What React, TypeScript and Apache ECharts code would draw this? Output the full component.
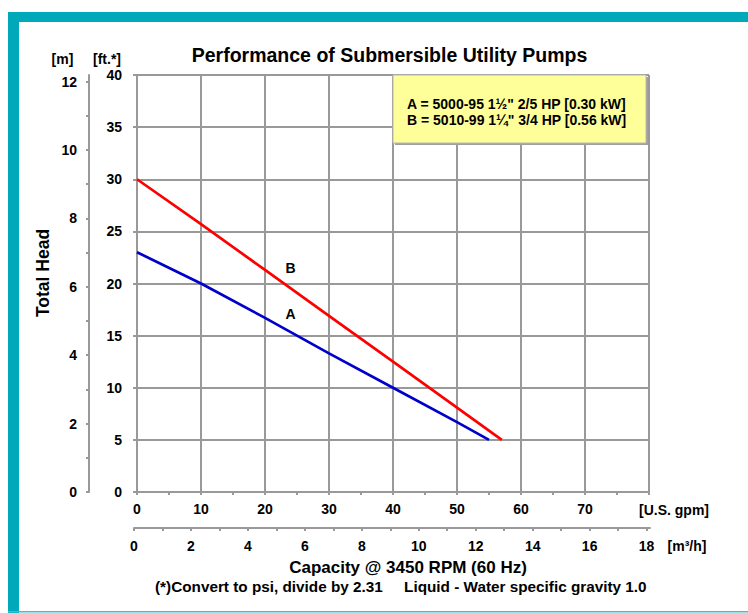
import React, { useEffect, useRef } from "react";
import * as echarts from "echarts";

// ---- data ----
const gpmA = [0, 10, 20, 30, 40, 50, 55];
const headA = [23, 20, 16.7, 13.3, 10, 6.7, 5];
const gpmB = [0, 10, 20, 30, 40, 50, 57];
const headB = [30, 25.7, 21.3, 16.9, 12.5, 8.1, 5];
const curveLabelNames = ["B", "A"];
const curveLabelGpm = [24, 24];
const curveLabelFt = [21.5, 17.1];
const mTickValues = [0, 1, 2, 3, 4, 5, 6, 7, 8, 9, 10, 11, 12];
const mLabelValues = [0, 2, 4, 6, 8, 10, 12];
const m3hTickValues = [0, 1, 2, 3, 4, 5, 6, 7, 8, 9, 10, 11, 12, 13, 14, 15, 16, 17, 18];
const m3hLabelValues = [0, 2, 4, 6, 8, 10, 12, 14, 16, 18];
const legendLines = ['A = 5000-95 1½" 2/5 HP [0.30 kW]', 'B = 5010-99 1¼" 3/4 HP [0.56 kW]'];
const titleText = "Performance of Submersible Utility Pumps";
const noteText = "(*)Convert to psi, divide by 2.31     Liquid - Water specific gravity 1.0";

const FT_PER_M = 3.2808;
const FF = "'Liberation Sans', Arial, Helvetica, sans-serif";
const GRID = "#999999";
const TEAL = "#00a9b9";

export default function App() {
  const ref = useRef<HTMLDivElement>(null);
  useEffect(() => {
    document.body.style.margin = "0";
    const chart = echarts.init(ref.current!, null, { renderer: "svg" });
    const boldFont = (s: number) => `bold ${s}px ${FF}`;
    const txt = (text: string, x: number, y: number, size: number, align = "center", rotation = 0) => ({
      type: "text",
      x,
      y,
      rotation,
      z: 100,
      style: { text, font: boldFont(size), fill: "#000", align, verticalAlign: "middle" },
    });
    const option: any = {
      animation: false,
      grid: [
        { left: 137, top: 75, width: 512, height: 417 },
        { left: 134, top: 527, width: 516, height: 1 },
      ],
      xAxis: [
        {
          type: "value",
          gridIndex: 0,
          min: 0,
          max: 80,
          interval: 10,
          axisLine: { show: true, lineStyle: { color: GRID, width: 2 } },
          axisTick: { show: true, length: 3, lineStyle: { color: GRID, width: 2 } },
          minorTick: { show: true, splitNumber: 2, length: 3, lineStyle: { color: GRID, width: 2 } },
          splitLine: { show: true, lineStyle: { color: GRID, width: 2 } },
          axisLabel: { margin: 10, color: "#000", fontWeight: "bold", fontSize: 14, fontFamily: FF, showMaxLabel: false },
        },
        {
          type: "value",
          gridIndex: 1,
          min: 0,
          max: 18.12,
          axisLine: { show: true, lineStyle: { color: GRID, width: 2 } },
          axisTick: { show: true, length: 3, customValues: m3hTickValues, lineStyle: { color: GRID, width: 2 } },
          splitLine: { show: false },
          axisLabel: { margin: 11, color: "#000", fontWeight: "bold", fontSize: 14, fontFamily: FF, customValues: m3hLabelValues },
        },
      ],
      yAxis: [
        {
          type: "value",
          gridIndex: 0,
          min: 0,
          max: 40,
          interval: 5,
          axisLine: { show: true, lineStyle: { color: GRID, width: 2 } },
          axisTick: { show: true, length: 4, lineStyle: { color: GRID, width: 2 } },
          splitLine: { show: true, lineStyle: { color: GRID, width: 2 } },
          axisLabel: { margin: 15, color: "#000", fontWeight: "bold", fontSize: 14, fontFamily: FF },
        },
        {
          type: "value",
          gridIndex: 0,
          position: "left",
          offset: 48,
          min: 0,
          max: 40 / FT_PER_M,
          axisLine: { show: true, lineStyle: { color: GRID, width: 2 } },
          axisTick: { show: true, length: 3, customValues: mTickValues, lineStyle: { color: GRID, width: 2 } },
          splitLine: { show: false },
          axisLabel: { margin: 12, color: "#000", fontWeight: "bold", fontSize: 14, fontFamily: FF, customValues: mLabelValues },
        },
        { type: "value", gridIndex: 1, show: false, min: 0, max: 1 },
      ],
      series: [
        {
          type: "line",
          xAxisIndex: 0,
          yAxisIndex: 0,
          data: gpmA.map((g, i) => [g, headA[i]]),
          showSymbol: false,
          lineStyle: { color: "#0000cc", width: 2.7 },
          z: 5,
        },
        {
          type: "line",
          xAxisIndex: 0,
          yAxisIndex: 0,
          data: gpmB.map((g, i) => [g, headB[i]]),
          showSymbol: false,
          lineStyle: { color: "#ff0000", width: 2.7 },
          z: 5,
        },
        {
          type: "scatter",
          xAxisIndex: 0,
          yAxisIndex: 0,
          symbolSize: 0,
          itemStyle: { opacity: 1 },
          data: curveLabelNames.map((n, i) => ({ name: n, value: [curveLabelGpm[i], curveLabelFt[i]] })),
          label: { show: true, position: "inside", formatter: "{b}", color: "#000", opacity: 1, fontWeight: "bold", fontSize: 14, fontFamily: FF },
          z: 6,
        },
        { type: "line", xAxisIndex: 1, yAxisIndex: 2, data: [] },
      ],
      graphic: [
        // teal frame
        { type: "rect", shape: { x: 8, y: 12, width: 740, height: 10 }, style: { fill: TEAL }, z: 100 },
        { type: "rect", shape: { x: 8, y: 12, width: 11, height: 601 }, style: { fill: TEAL }, z: 100 },
        { type: "rect", shape: { x: 8, y: 611, width: 740, height: 1.5 }, style: { fill: "#3cc0cc" }, z: 100 },
        // legend box
        { type: "rect", shape: { x: 395, y: 77, width: 253, height: 68 }, style: { fill: "#a0a0a0" }, z: 100 },
        { type: "rect", shape: { x: 393, y: 75, width: 253, height: 68 }, style: { fill: "#ffff99", stroke: "#b8b8b8", lineWidth: 1 }, z: 101 },
        { ...txt(legendLines[0], 407, 103.5, 14, "left"), z: 102 },
        { ...txt(legendLines[1], 407, 119.5, 14, "left"), z: 102 },
        // texts
        txt(titleText, 389.5, 55, 19.5),
        txt("[m]", 62.5, 59, 14),
        txt("[ft.*]", 107, 59, 14),
        txt("Total Head", 43, 273, 17.5, "center", Math.PI / 2),
        txt("[U.S. gpm]", 674, 509.5, 14),
        txt("[m³/h]", 687, 546, 14),
        txt("Capacity @ 3450 RPM (60 Hz)", 408, 567, 17),
        txt(noteText, 155, 586, 15.3, "left"),
      ],
    };
    chart.setOption(option);
    return () => chart.dispose();
  }, []);
  return <div ref={ref} style={{ width: 748, height: 613 }} />;
}
